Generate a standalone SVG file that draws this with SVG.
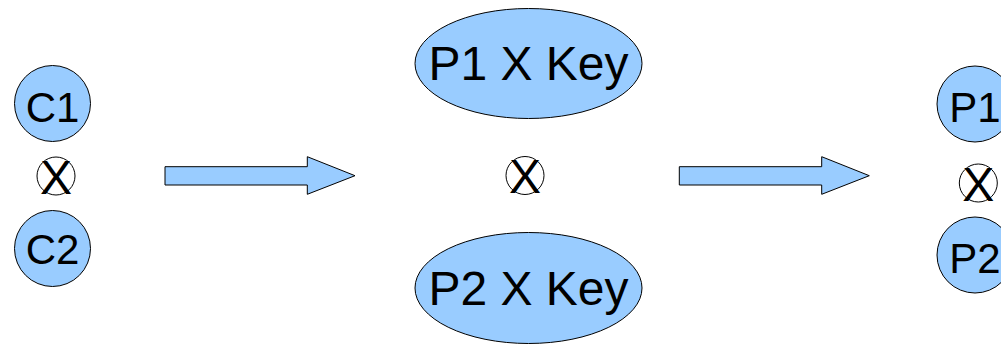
<svg xmlns="http://www.w3.org/2000/svg" width="1001" height="345" viewBox="0 0 1001 345">
<style>
.shape{fill:#99ccff;stroke:#000;stroke-width:1}
.op{fill:#fff;stroke:#000;stroke-width:1}
text{font-family:"Liberation Sans",Arial,sans-serif;fill:#000;text-anchor:middle}
.big{font-size:48px}
.mid{font-size:42px}
</style>
<rect width="1001" height="345" fill="#fff"/>
<g id="c1"><circle class="shape" cx="52.5" cy="103.5" r="38"/><text class="mid" x="52.5" y="122">C1</text></g>
<g id="x1"><circle class="op" cx="56" cy="176" r="19"/><text class="big" x="56" y="193.5">X</text></g>
<g id="c2"><circle class="shape" cx="52.5" cy="248.5" r="38"/><text class="mid" x="52.5" y="264">C2</text></g>
<g id="p1key"><ellipse class="shape" cx="528.5" cy="63.5" rx="113.5" ry="55"/><text class="big" x="528.5" y="80">P1 X Key</text></g>
<g id="x2"><circle class="op" cx="525" cy="175.5" r="19"/><text class="big" x="525" y="193">X</text></g>
<g id="p2key"><ellipse class="shape" cx="528.5" cy="288" rx="113.5" ry="55.5"/><text class="big" x="528.5" y="305">P2 X Key</text></g>
<g id="p1"><circle class="shape" cx="975" cy="104" r="38"/><text class="mid" x="975" y="122">P1</text></g>
<g id="x3"><circle class="op" cx="978.3" cy="183" r="19"/><text class="big" x="978.3" y="200.5">X</text></g>
<g id="p2"><circle class="shape" cx="975" cy="255" r="38"/><text class="mid" x="975" y="273">P2</text></g>
<g id="connectors">
<polygon class="shape" points="165,166.7 307.3,166.7 307.3,156.7 355,175.7 307.3,194.3 307.3,185 165,185"/>
<polygon class="shape" points="679.3,166.7 821.7,166.7 821.7,156.7 869.3,175.7 821.7,194.3 821.7,185 679.3,185"/>
</g>
</svg>
